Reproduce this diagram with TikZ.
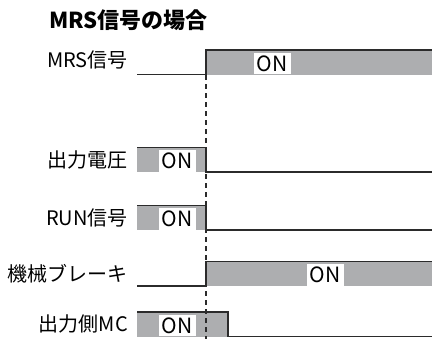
\documentclass[tikz,border=0pt]{standalone}
\usepackage{fontspec}
\setmainfont{Noto Sans CJK JP}
\definecolor{siggrey}{HTML}{ADAEB0}
\definecolor{sigline}{HTML}{2B2B2B}
\begin{document}
\begin{tikzpicture}[x=1pt,y=-1pt,
  sig/.style={draw=sigline, line width=1.1pt},
  band/.style={fill=siggrey},
  onbox/.style={fill=white, inner sep=0pt, minimum width=37pt, anchor=south,
    font=\fontsize{21}{22}\selectfont},
  lbl/.style={anchor=east, inner sep=0pt, font=\fontsize{20}{22}\selectfont},
  ttl/.style={anchor=west, inner sep=0pt, font=\fontsize{22}{24}\selectfont\bfseries},
  tline/.style={draw=sigline, line width=1.2pt, dash pattern=on 5pt off 4pt}]
\useasboundingbox (0,0) rectangle (432,340);

% title
\node[ttl] (title) at (49,20) {MRS信号の場合};

% labels
\node[lbl] (l1) at (128,60) {MRS信号};
\node[lbl] (l2) at (128,160) {出力電圧};
\node[lbl] (l3) at (128,218) {RUN信号};
\node[lbl] (l4) at (128,274) {機械ブレーキ};
\node[lbl] (l5) at (128,324) {出力側MC};

% row 1: MRS
\fill[band] (206,50) rectangle (432,74.5);
\node[onbox, minimum height=21.5pt] (on1) at (272,74.5) {ON};
\draw[sig] (137,74.5) -- (206,74.5) -- (206,50) -- (432,50);

% row 2: output voltage
\fill[band] (137,147.5) rectangle (206,172);
\node[onbox, minimum height=21.5pt] (on2) at (177,172) {ON};
\draw[sig] (137,147.5) -- (206,147.5) -- (206,172) -- (432,172);

% row 3: RUN
\fill[band] (137,205.5) rectangle (206,230);
\node[onbox, minimum height=21.5pt] (on3) at (177,230) {ON};
\draw[sig] (137,205.5) -- (206,205.5) -- (206,230) -- (432,230);

% row 4: brake
\fill[band] (206,261.5) rectangle (432,286);
\node[onbox, minimum height=21.5pt] (on4) at (325,286) {ON};
\draw[sig] (137,286) -- (206,286) -- (206,261.5) -- (432,261.5);

% row 5: MC
\fill[band] (137,312) rectangle (228,336.5);
\node[onbox, minimum height=21.5pt] (on5) at (177,336.5) {ON};
\draw[sig] (137,312) -- (228,312) -- (228,336.5) -- (432,336.5);

% timing line
\coordinate (t0) at (206,75);
\coordinate (t1) at (206,339);
\draw[tline] (t0) -- (t1);
\end{tikzpicture}
\end{document}
